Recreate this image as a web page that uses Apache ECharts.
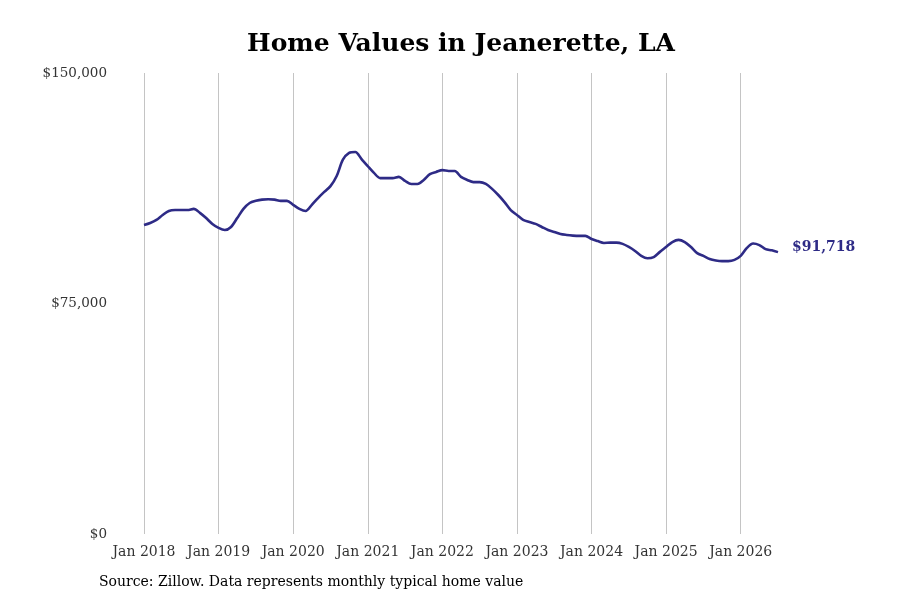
<!DOCTYPE html>
<html>
<head>
<meta charset="utf-8">
<script src="https://cdn.jsdelivr.net/npm/echarts@6/dist/echarts.min.js"></script>
<style>html,body{margin:0;padding:0;background:#fff}#c{width:900px;height:600px}</style>
</head>
<body>
<div id="c"></div>
<script>
const years = [2018, 2019, 2020, 2021, 2022, 2023, 2024, 2025, 2026];
const monthNames = ['Jan','Feb','Mar','Apr','May','Jun','Jul','Aug','Sep','Oct','Nov','Dec'];
const values = [
  100550, 101200, 102200, 103800, 105100, 105400, 105400, 105400, 105800, 104500, 102800, 100900,
  99600, 98900, 99900, 102800, 105800, 107700, 108400, 108800, 108900, 108800, 108400, 108400,
  107100, 105800, 105100, 107100, 109300, 111300, 113200, 116500, 121800, 124000, 124300, 122000,
  119700, 117500, 115800, 115800, 115800, 116200, 114900, 113900, 113900, 115200, 117100, 117800,
  118400, 118100, 118100, 116200, 115200, 114500, 114500, 113900, 112300, 110300, 108000, 105400,
  103800, 102200, 101500, 100900, 99900, 98900, 98300, 97600, 97300, 97100, 97000, 97000,
  96000, 95300, 94700, 94800, 94800, 94400, 93400, 92100, 90500, 89700, 90100, 91800,
  93400, 95000, 95700, 95000, 93400, 91400, 90500, 89500, 89000, 88800, 88800, 89200,
  90500, 93100, 94500, 94000, 92700, 92300, 91718
];
const yTicks = [0, 75000, 150000];
const titleText = 'Home Values in Jeanerette, LA';
const sourceText = 'Source: Zillow. Data represents monthly typical home value';

const categories = [];
for (const y of years) for (const m of monthNames) {
  if (categories.length < values.length) categories.push(m + ' ' + y);
}
const fmt = v => '$' + Math.round(v).toLocaleString('en-US');
const font = 'DejaVu Serif';
const isJan = (i) => i % 12 === 0;

const chart = echarts.init(document.getElementById('c'));
chart.setOption({
  backgroundColor: '#fff',
  animation: false,
  textStyle: { fontFamily: font },
  grid: { left: 144, right: 122, top: 73, bottom: 66, containLabel: false },
  graphic: [
    { type: 'text', x: 461, y: 44, style: { text: titleText, fontFamily: font, fontWeight: 'bold', fontSize: 25, fill: '#000', textAlign: 'center', textVerticalAlign: 'middle' } },
    { type: 'text', x: 99, y: 582, style: { text: sourceText, fontFamily: font, fontSize: 14, fill: '#000', textAlign: 'left', textVerticalAlign: 'middle' } }
  ],
  xAxis: {
    type: 'category',
    data: categories,
    boundaryGap: false,
    axisLine: { show: false },
    axisTick: { show: false },
    axisLabel: { interval: (i) => isJan(i), color: '#333', fontFamily: font, fontSize: 14, margin: 11 },
    splitLine: { show: true, interval: (i) => isJan(i), lineStyle: { color: '#c4c4c4', width: 1 } }
  },
  yAxis: {
    type: 'value',
    min: yTicks[0],
    max: yTicks[yTicks.length - 1],
    interval: yTicks[1] - yTicks[0],
    axisLine: { show: false },
    axisTick: { show: false },
    splitLine: { show: false },
    axisLabel: { formatter: fmt, color: '#333', fontFamily: font, fontSize: 13.5, margin: 37 }
  },
  series: [{
    type: 'line',
    data: values,
    showSymbol: false,
    smooth: 0.3,
    lineStyle: { color: '#2e2b86', width: 2.6 },
    itemStyle: { color: '#2e2b86' },
    endLabel: { show: true, formatter: (p) => fmt(p.value), color: '#2e2b86', fontFamily: font, fontWeight: 'bold', fontSize: 14, distance: 14, offset: [0, -5] }
  }]
});
</script>
</body>
</html>
